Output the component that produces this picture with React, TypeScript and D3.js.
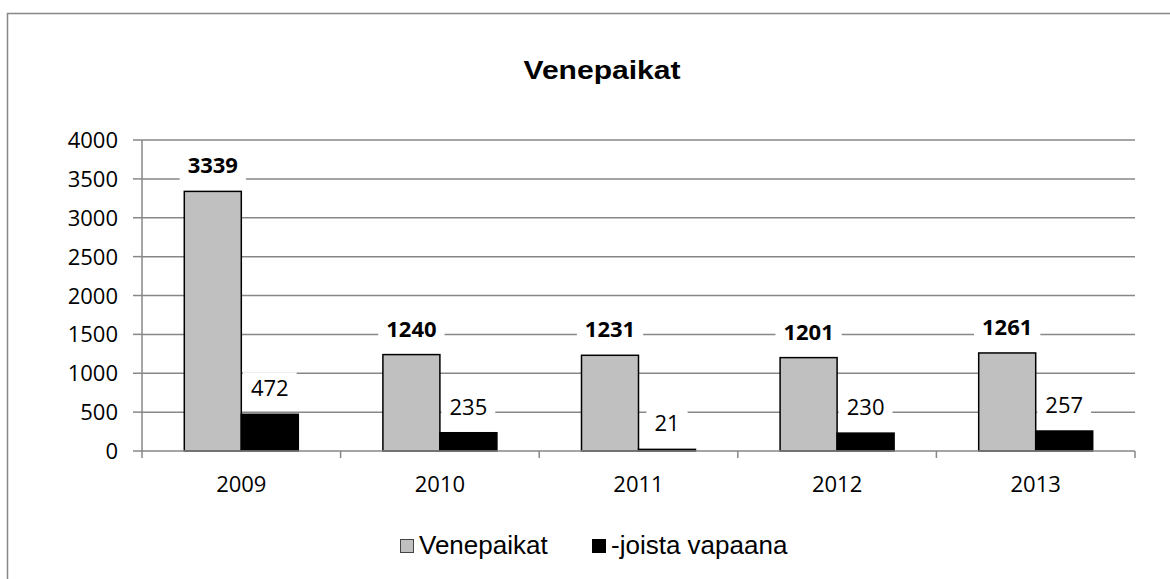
import React, { useRef, useEffect } from "react";
import * as d3 from "d3";

const years = ["2009", "2010", "2011", "2012", "2013"];
const venepaikat = [3339, 1240, 1231, 1201, 1261];
const vapaana = [472, 235, 21, 230, 257];
const yTicks = [0, 500, 1000, 1500, 2000, 2500, 3000, 3500, 4000];
const seriesNames = ["Venepaikat", "-joista vapaana"];

const App = () => {
  const svgRef = useRef(null);
  const width = 1170;
  const height = 579;

  useEffect(() => {
    const svg = d3.select(svgRef.current);
    svg.selectAll("*").remove();

    const margin = { top: 140, right: 35, bottom: 128, left: 142 };
    const gridColor = "#878787";
    const numFont = "'Open Sans', sans-serif";
    const txtFont = "'Liberation Sans', Arial, sans-serif";

    // outer chart frame (runs off the right / bottom edge)
    svg
      .append("rect")
      .attr("x", 7.5)
      .attr("y", 13.5)
      .attr("width", 1200)
      .attr("height", 600)
      .attr("fill", "#fff")
      .attr("stroke", gridColor)
      .attr("stroke-width", 1.5);

    svg
      .append("text")
      .attr("x", 602)
      .attr("y", 79)
      .attr("text-anchor", "middle")
      .attr("font-family", txtFont)
      .attr("font-weight", "bold")
      .attr("font-size", 26)
      .attr("textLength", 157)
      .attr("lengthAdjust", "spacingAndGlyphs")
      .text("Venepaikat");

    const x = d3
      .scaleBand()
      .domain(years)
      .range([margin.left, width - margin.right]);

    const inner = d3
      .scaleBand()
      .domain(seriesNames)
      .range([0, x.bandwidth()])
      .paddingOuter(0.742);

    const y = d3
      .scaleLinear()
      .domain([0, 4000])
      .range([height - margin.bottom, margin.top]);

    // gridlines
    svg
      .append("g")
      .selectAll("line")
      .data(yTicks.filter((d) => d > 0))
      .join("line")
      .attr("x1", margin.left)
      .attr("x2", width - margin.right)
      .attr("y1", (d) => y(d))
      .attr("y2", (d) => y(d))
      .attr("stroke", gridColor)
      .attr("stroke-width", 1.5);

    // y axis
    const yAxis = svg.append("g");
    yAxis
      .append("line")
      .attr("x1", margin.left)
      .attr("x2", margin.left)
      .attr("y1", y(4000))
      .attr("y2", y(0))
      .attr("stroke", gridColor)
      .attr("stroke-width", 1.5);
    yAxis
      .selectAll("line.tick")
      .data(yTicks)
      .join("line")
      .attr("class", "tick")
      .attr("x1", margin.left - 9)
      .attr("x2", margin.left)
      .attr("y1", (d) => y(d))
      .attr("y2", (d) => y(d))
      .attr("stroke", gridColor)
      .attr("stroke-width", 1.5);
    yAxis
      .selectAll("text")
      .data(yTicks)
      .join("text")
      .attr("x", margin.left - 24)
      .attr("y", (d) => y(d) + 8)
      .attr("text-anchor", "end")
      .attr("font-family", numFont)
      .attr("font-size", 22)
      .text((d) => d);

    // data label boxes + bars
    const rows = years.map((yr, i) => ({ yr, values: [venepaikat[i], vapaana[i]] }));
    const bars = svg.append("g");
    rows.forEach((r) => {
      r.values.forEach((v, j) => {
        const bx = x(r.yr) + inner(seriesNames[j]);
        bars
          .append("rect")
          .attr("x", bx)
          .attr("y", y(v))
          .attr("width", inner.bandwidth())
          .attr("height", y(0) - y(v))
          .attr("fill", j === 0 ? "#c0c0c0" : "#000")
          .attr("stroke", "#000")
          .attr("stroke-width", 1.5);
      });
    });

    // x axis
    const xAxis = svg.append("g");
    xAxis
      .append("line")
      .attr("x1", margin.left)
      .attr("x2", width - margin.right)
      .attr("y1", y(0))
      .attr("y2", y(0))
      .attr("stroke", gridColor)
      .attr("stroke-width", 1.5);
    xAxis
      .selectAll("line.tick")
      .data([...years.map((d) => x(d)), width - margin.right])
      .join("line")
      .attr("class", "tick")
      .attr("x1", (d) => d)
      .attr("x2", (d) => d)
      .attr("y1", y(0))
      .attr("y2", y(0) + 7)
      .attr("stroke", gridColor)
      .attr("stroke-width", 1.5);
    xAxis
      .selectAll("text")
      .data(years)
      .join("text")
      .attr("x", (d) => x(d) + x.bandwidth() / 2)
      .attr("y", 492)
      .attr("text-anchor", "middle")
      .attr("font-family", numFont)
      .attr("font-size", 22)
      .text((d) => d);

    // value labels with white backgrounds
    const labels = svg.append("g");
    rows.forEach((r) => {
      r.values.forEach((v, j) => {
        const cx = x(r.yr) + inner(seriesNames[j]) + inner.bandwidth() / 2;
        const base = y(v) - 18;
        const t = labels
          .append("text")
          .attr("x", cx)
          .attr("y", base)
          .attr("text-anchor", "middle")
          .attr("font-family", numFont)
          .attr("font-weight", j === 0 ? "bold" : "normal")
          .attr("font-size", 22)
          .text(v);
        const w = t.node().getComputedTextLength();
        labels
          .insert("rect", "text")
          .attr("x", cx - w / 2 - 8)
          .attr("y", base - 24)
          .attr("width", w + 16)
          .attr("height", 32)
          .attr("fill", "#fff");
      });
    });

    // legend
    const legend = svg.append("g");
    const items = [
      { name: seriesNames[0], fill: "#c0c0c0", sx: 400 },
      { name: seriesNames[1], fill: "#000", sx: 592 },
    ];
    items.forEach((it) => {
      legend
        .append("rect")
        .attr("x", it.sx + 0.5)
        .attr("y", 539.5)
        .attr("width", 13)
        .attr("height", 13)
        .attr("fill", it.fill)
        .attr("stroke", it.fill === "#000" ? "#000" : "#444")
        .attr("stroke-width", 1);
      legend
        .append("text")
        .attr("x", it.sx + 19)
        .attr("y", 554)
        .attr("font-family", txtFont)
        .attr("font-size", 26)
        .text(it.name);
    });
  }, []);

  return (
    <svg
      ref={svgRef}
      width={width}
      height={height}
      style={{ position: "absolute", left: 0, top: 0, background: "#fff" }}
    ></svg>
  );
};

export default App;
